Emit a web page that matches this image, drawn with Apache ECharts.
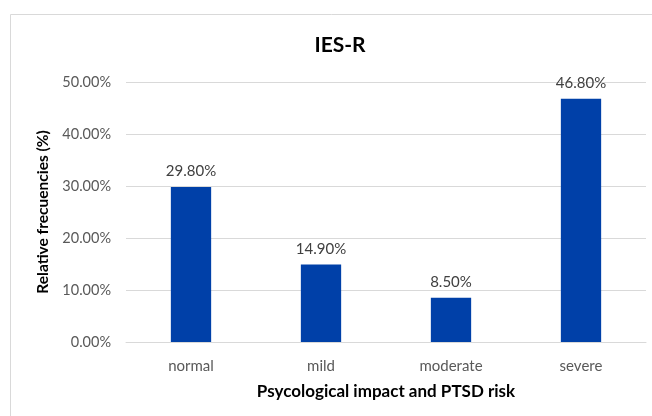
<!DOCTYPE html>
<html>
<head>
<meta charset="utf-8">
<script src="https://cdn.jsdelivr.net/npm/echarts@6/dist/echarts.min.js"></script>
<style>
  html, body { margin: 0; padding: 0; background: #fff; }
  #chart { width: 652px; height: 416px; }
</style>
</head>
<body>
<div id="chart"></div>
<script>
// data
var categories = ["normal", "mild", "moderate", "severe"];
var values = [29.8, 14.9, 8.5, 46.8];
var yTicks = [0, 10, 20, 30, 40, 50];

var myChart = echarts.init(document.getElementById("chart"));

var option = {
  animation: false,
  textStyle: { fontFamily: "Lato" },
  graphic: [
    {
      type: "rect",
      shape: { x: 10.5, y: 14.5, width: 700, height: 500 },
      style: { fill: "none", stroke: "#d9d9d9", lineWidth: 1 }
    }
  ],
  title: {
    text: "IES-R",
    left: 335,
    top: 30,
    textAlign: "center",
    textStyle: { fontSize: 21, fontWeight: "bold", color: "#000", fontFamily: "Lato" }
  },
  grid: { left: 126, right: 6, top: 82, bottom: 74 },
  xAxis: {
    type: "category",
    data: categories,
    name: "Psycological impact and PTSD risk",
    nameLocation: "middle",
    nameGap: 41,
    nameTextStyle: { fontSize: 17, fontWeight: "bold", color: "#000" },
    axisLine: { lineStyle: { color: "#d9d9d9" } },
    axisTick: { show: false },
    axisLabel: { fontSize: 15, color: "#595959", margin: 17 }
  },
  yAxis: {
    type: "value",
    min: yTicks[0],
    max: yTicks[yTicks.length - 1],
    interval: 10,
    name: "Relative frecuencies (%)",
    nameLocation: "middle",
    nameGap: 73,
    nameTextStyle: { fontSize: 15.5, fontWeight: "bold", color: "#000" },
    axisLine: { show: false },
    axisTick: { show: false },
    splitLine: { lineStyle: { color: "#d9d9d9" } },
    axisLabel: {
      fontSize: 14.5,
      color: "#595959",
      margin: 15,
      formatter: function (v) { return v.toFixed(2) + "%"; }
    }
  },
  series: [
    {
      type: "bar",
      data: values,
      barWidth: "31%",
      itemStyle: { color: "#0040a8" },
      label: {
        show: true,
        position: "top",
        distance: 8,
        fontSize: 15,
        color: "#404040",
        formatter: function (p) { return p.value.toFixed(2) + "%"; }
      }
    }
  ]
};

myChart.setOption(option);
</script>
</body>
</html>
